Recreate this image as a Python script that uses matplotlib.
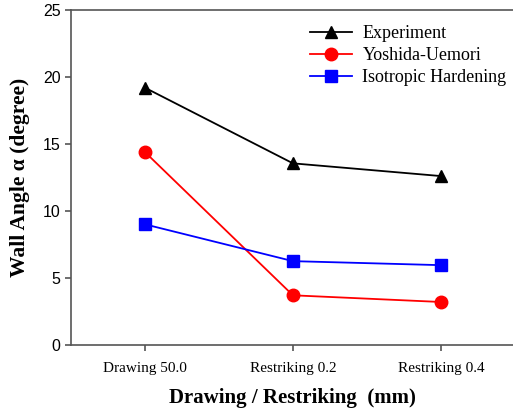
import matplotlib.pyplot as plt

categories = ['Drawing 50.0', 'Restriking 0.2', 'Restriking 0.4']
experiment = [19.2, 13.55, 12.6]
yoshida = [14.4, 3.7, 3.2]
isotropic = [9.0, 6.25, 5.95]

fig = plt.figure(figsize=(5.13, 4.15), dpi=100)
ax = fig.add_axes([0.138, 0.169, 0.866, 0.807])

x = range(len(categories))
ax.plot(x, experiment, color='black', marker='^', markersize=9, lw=1.3, label='Experiment')
ax.plot(x, yoshida, color='red', marker='o', markersize=9, lw=1.3, label='Yoshida-Uemori')
ax.plot(x, isotropic, color='blue', marker='s', markersize=8, lw=1.3, label='Isotropic Hardening')

ax.set_xlim(-0.5, 2.5)
ax.set_ylim(0, 25)
ax.set_yticks([0, 5, 10, 15, 20, 25])
ax.set_xticks(list(x))
ax.set_xticklabels(categories, fontfamily='Liberation Serif', fontsize=11)
for lab in ax.get_yticklabels():
    lab.set_fontfamily('Liberation Sans')
    lab.set_fontsize(11.5)

for s in ['left', 'bottom', 'top']:
    ax.spines[s].set_color('#555555')
    ax.spines[s].set_linewidth(1.2)
ax.spines['right'].set_visible(False)
ax.tick_params(direction='out', length=4.5, width=1.2, color='#555555', pad=3)
ax.tick_params(axis='x', pad=8)

ax.set_xlabel('Drawing / Restriking  (mm)', fontfamily='Liberation Serif',
              fontweight='bold', fontsize=15, labelpad=9)
ax.set_ylabel('Wall Angle α (degree)', fontfamily='Liberation Serif',
              fontweight='bold', fontsize=15.5, labelpad=9)

ax.legend(loc='upper left', frameon=False, prop={'family': 'Liberation Serif', 'size': 13},
          handlelength=2.3, handletextpad=0.6, labelspacing=0.28, borderpad=0,
          bbox_to_anchor=(301 / 513, 1 - 16 / 415), bbox_transform=fig.transFigure)

fig.savefig('out.png', dpi=100)
